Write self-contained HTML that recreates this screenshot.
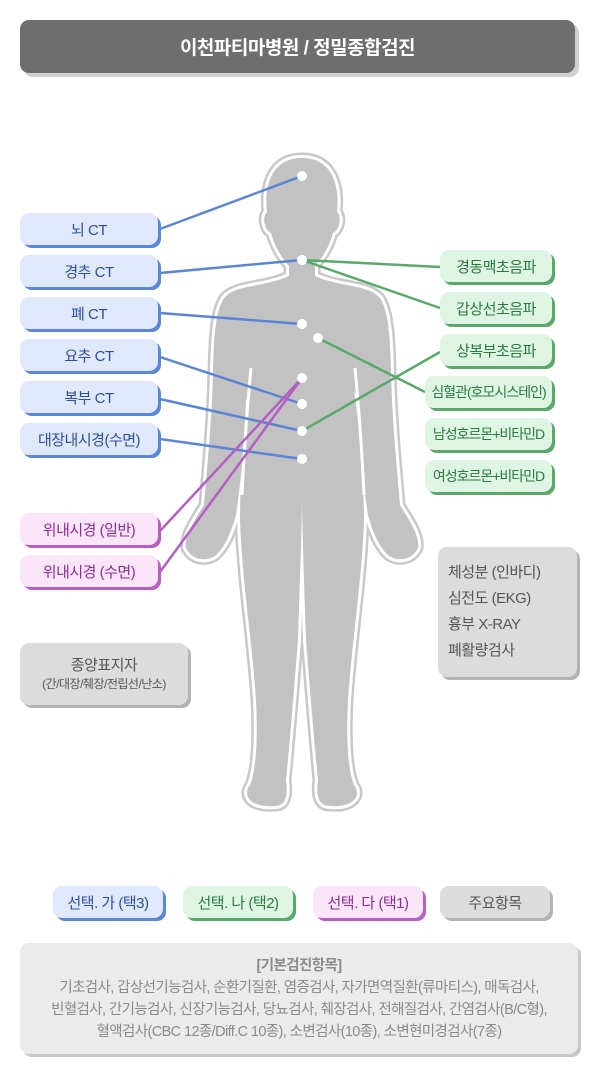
<!DOCTYPE html>
<html><head><meta charset="utf-8"><style>
*{margin:0;padding:0;box-sizing:border-box}
body{width:600px;height:1073px;background:#fff;position:relative;overflow:hidden;font-family:"Liberation Sans","Noto Sans CJK KR",sans-serif}
.b{position:absolute;border-radius:9px;display:flex;align-items:center;justify-content:center;font-size:15px;white-space:nowrap;letter-spacing:-0.5px}
.bl{background:#dfe9fb;color:#2c4f9c;box-shadow:3px 3px 0 #5c86d8}
.gr{background:#def5e4;color:#2b7a3d;box-shadow:3px 3px 0 #5aa86a}
.pu{background:#fbe5f9;color:#8b2c98;box-shadow:3px 3px 0 #b760c4}
.gy{background:#dcdcdc;color:#555;box-shadow:3px 3px 0 #b3b3b3}
</style></head><body>
<div class="b" style="left:20px;top:20px;width:555px;height:53px;background:#6e6e6e;color:#fff;font-weight:bold;font-size:19px;box-shadow:4px 4px 0 #d0d0d0">이천파티마병원 / 정밀종합검진</div>
<svg style="position:absolute;left:0;top:0" width="600" height="1073">
<defs><path id="bd" d="M302,158 C272,158 264,185 267,212 C262,216 264,230 271,233 C275,248 282,258 289,266 L289,276 C262,288 236,284 224,298 C212,316 214,360 212,400 C210,440 206,480 204,505 C195,520 184,535 186,548 C192,560 205,562 215,556 C225,548 232,530 236,515 C240,490 244,450 246,400 L250,390 C244,430 240,480 240,520 C242,580 252,640 256,700 C258,740 256,770 250,785 C242,795 250,808 275,806 C286,806 288,795 286,780 C290,740 294,690 298,640 C300,580 302,520 302,495 C302,520 304,580 306,640 C310,690 314,740 318,780 C316,795 318,806 330,806 C354,808 362,795 354,785 C348,770 346,740 348,700 C352,640 362,580 364,520 C364,480 360,430 354,390 L358,400 C360,450 364,490 368,515 C372,530 379,548 389,556 C399,562 412,560 418,548 C420,535 409,520 400,505 C398,480 394,440 392,400 C390,360 392,316 380,298 C368,284 342,288 315,276 L315,266 C322,258 329,248 333,233 C340,230 342,216 337,212 C340,185 332,158 302,158 Z"/></defs>
<use href="#bd" fill="#c2c2c2" stroke="#c8c8c8" stroke-width="11" stroke-linejoin="round"/>
<use href="#bd" fill="#c2c2c2" stroke="#fff" stroke-width="6" stroke-linejoin="round"/>
<use href="#bd" fill="#c2c2c2"/>
<path d="M251,368 C247,410 244,450 242,495 M355,368 C359,410 362,450 364,495" stroke="#fff" stroke-width="3" fill="none"/>
<g stroke-width="2.5" fill="none">
<g stroke="#5b84d6">
<line x1="160" y1="229" x2="302" y2="176"/><line x1="160" y1="273" x2="302" y2="260"/>
<line x1="160" y1="313" x2="302" y2="324"/><line x1="160" y1="357" x2="302" y2="404"/>
<line x1="160" y1="399" x2="302" y2="431"/><line x1="160" y1="439" x2="302" y2="459"/></g>
<g stroke="#5aa86a">
<line x1="302" y1="260" x2="440" y2="267"/><line x1="302" y1="260" x2="440" y2="308"/>
<line x1="440" y1="352" x2="302" y2="431"/><line x1="318" y1="338" x2="425" y2="392"/></g>
<g stroke="#b35fc4">
<line x1="302" y1="378" x2="160" y2="531"/><line x1="302" y1="378" x2="160" y2="572"/></g>
</g>
<g fill="#fff"><circle cx="302" cy="176" r="5"/><circle cx="302" cy="260" r="5"/><circle cx="302" cy="324" r="5"/><circle cx="318" cy="338" r="5"/><circle cx="302" cy="378" r="5"/><circle cx="302" cy="404" r="5"/><circle cx="302" cy="431" r="5"/><circle cx="302" cy="459" r="5"/></g>
</svg>
<div class="b bl" style="left:20px;top:213px;width:138px;height:32px">뇌 CT</div>
<div class="b bl" style="left:20px;top:255px;width:138px;height:32px">경추 CT</div>
<div class="b bl" style="left:20px;top:297px;width:138px;height:32px">폐 CT</div>
<div class="b bl" style="left:20px;top:339px;width:138px;height:32px">요추 CT</div>
<div class="b bl" style="left:20px;top:381px;width:138px;height:32px">복부 CT</div>
<div class="b bl" style="left:20px;top:423px;width:138px;height:32px">대장내시경(수면)</div>
<div class="b gr" style="left:440px;top:250px;width:112px;height:32px">경동맥초음파</div>
<div class="b gr" style="left:440px;top:292px;width:112px;height:32px">갑상선초음파</div>
<div class="b gr" style="left:440px;top:334px;width:112px;height:32px">상복부초음파</div>
<div class="b gr" style="left:425px;top:376px;width:127px;height:32px;font-size:14px;letter-spacing:-1px">심혈관(호모시스테인)</div>
<div class="b gr" style="left:425px;top:418px;width:127px;height:32px;font-size:14px;letter-spacing:-1px">남성호르몬+비타민D</div>
<div class="b gr" style="left:425px;top:460px;width:127px;height:32px;font-size:14px;letter-spacing:-1px">여성호르몬+비타민D</div>
<div class="b pu" style="left:20px;top:513px;width:138px;height:32px">위내시경 (일반)</div>
<div class="b pu" style="left:20px;top:555px;width:138px;height:32px">위내시경 (수면)</div>
<div class="b gy" style="left:20px;top:643px;width:168px;height:62px;flex-direction:column;line-height:1.4"><span>종양표지자</span><span style="font-size:12px">(간/대장/췌장/전립선/난소)</span></div>
<div class="b gy" style="left:438px;top:547px;width:139px;height:130px;flex-direction:column;align-items:flex-start;padding-left:10px;line-height:26px">체성분 (인바디)<br>심전도 (EKG)<br>흉부 X-RAY<br>폐활량검사</div>
<div class="b bl" style="left:53px;top:886px;width:110px;height:32px">선택. 가 (택3)</div>
<div class="b gr" style="left:183px;top:886px;width:110px;height:32px">선택. 나 (택2)</div>
<div class="b pu" style="left:313px;top:886px;width:110px;height:32px">선택. 다 (택1)</div>
<div class="b gy" style="left:440px;top:886px;width:110px;height:32px">주요항목</div>
<div class="b" style="left:20px;top:943px;width:558px;height:111px;background:#ebebeb;color:#8a8a8a;box-shadow:3px 3px 0 #c8c8c8;flex-direction:column;font-size:14.5px;line-height:22px;text-align:center;letter-spacing:-0.6px"><b>[기본검진항목]</b><span>기초검사, 갑상선기능검사, 순환기질환, 염증검사, 자가면역질환(류마티스), 매독검사,</span><span>빈혈검사, 간기능검사, 신장기능검사, 당뇨검사, 췌장검사, 전해질검사, 간염검사(B/C형),</span><span>혈액검사(CBC 12종/Diff.C 10종), 소변검사(10종), 소변현미경검사(7종)</span></div>
</body></html>
